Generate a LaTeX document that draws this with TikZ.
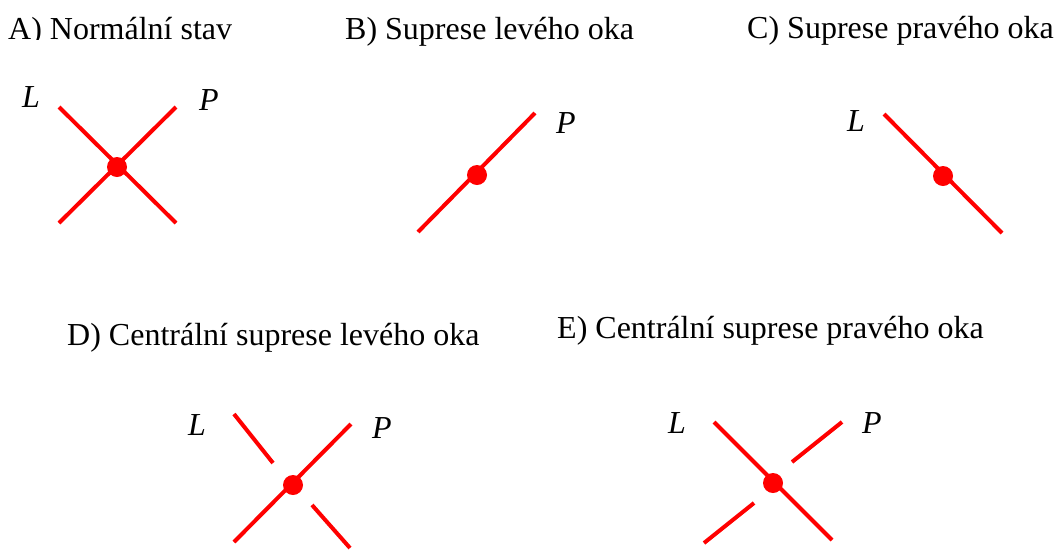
\documentclass[tikz,border=0pt]{standalone}
\usepackage{fontspec}
\setmainfont{Liberation Serif}
\usetikzlibrary{positioning}

\begin{document}
\begin{tikzpicture}[
        x=1pt, y=-1pt,
        title/.style={anchor=base west, inner sep=0pt, font=\fontsize{32}{36}\selectfont},
        eye/.style={anchor=base, inner sep=0pt, font=\fontsize{32}{36}\selectfont\itshape},
        fix/.style={circle, fill=red, minimum size=20pt, inner sep=0pt},
        axis/.style={red, line width=4pt}
      ]
      \useasboundingbox (0,0) rectangle (1055,550);

      % A) both eyes
      \begin{scope}
        \clip (0,0) rectangle (300,39);
        \node[title] (ta) at (8,39.5) {A) Normální stav};
      \end{scope}
      \node[fix] (a) at (117,167) {};
      \coordinate (a-lt) at (59,107);  \coordinate (a-rb) at (176,223);
      \coordinate (a-rt) at (176,107); \coordinate (a-lb) at (59,223);
      \draw[axis] (a-lt) -- (a-rb);
      \draw[axis] (a-rt) -- (a-lb);
      \node[eye] (a-l) at (31,107) {L};
      \node[eye] (a-p) at (209,110) {P};

      % B) left eye suppressed
      \node[title] (tb) at (345,39) {B) Suprese levého oka};
      \node[fix] (b) at (477,175) {};
      \coordinate (b-rt) at (535,113); \coordinate (b-lb) at (418,232);
      \draw[axis] (b-rt) -- (b-lb);
      \node[eye] (b-p) at (566,133) {P};

      % C) right eye suppressed
      \node[title] (tc) at (747,38) {C) Suprese pravého oka};
      \node[fix] (c) at (943,176) {};
      \coordinate (c-lt) at (884,114); \coordinate (c-rb) at (1002,233);
      \draw[axis] (c-lt) -- (c-rb);
      \node[eye] (c-l) at (856,131) {L};

      % D) central suppression, left eye
      \node[title] (td) at (67,345) {D) Centrální suprese levého oka};
      \node[fix] (d) at (293,485) {};
      \coordinate (d-rt) at (351,424); \coordinate (d-lb) at (234,542);
      \coordinate (d-lt) at (234,414); \coordinate (d-lm) at (273,463);
      \coordinate (d-rm) at (312,505); \coordinate (d-rb) at (350,548);
      \draw[axis] (d-rt) -- (d-lb);
      \draw[axis] (d-lt) -- (d-lm);
      \draw[axis] (d-rm) -- (d-rb);
      \node[eye] (d-l) at (197,435) {L};
      \node[eye] (d-p) at (382,438) {P};

      % E) central suppression, right eye
      \node[title] (te) at (557,338) {E) Centrální suprese pravého oka};
      \node[fix] (e) at (773,483) {};
      \coordinate (e-lt) at (714,422); \coordinate (e-rb) at (832,540);
      \coordinate (e-lb) at (704,543); \coordinate (e-lm) at (754,503);
      \coordinate (e-rm) at (792,462); \coordinate (e-rt) at (842,422);
      \draw[axis] (e-lt) -- (e-rb);
      \draw[axis] (e-lb) -- (e-lm);
      \draw[axis] (e-rm) -- (e-rt);
      \node[eye] (e-l) at (677,433) {L};
      \node[eye] (e-p) at (872,433) {P};
    \end{tikzpicture}
\end{document}
